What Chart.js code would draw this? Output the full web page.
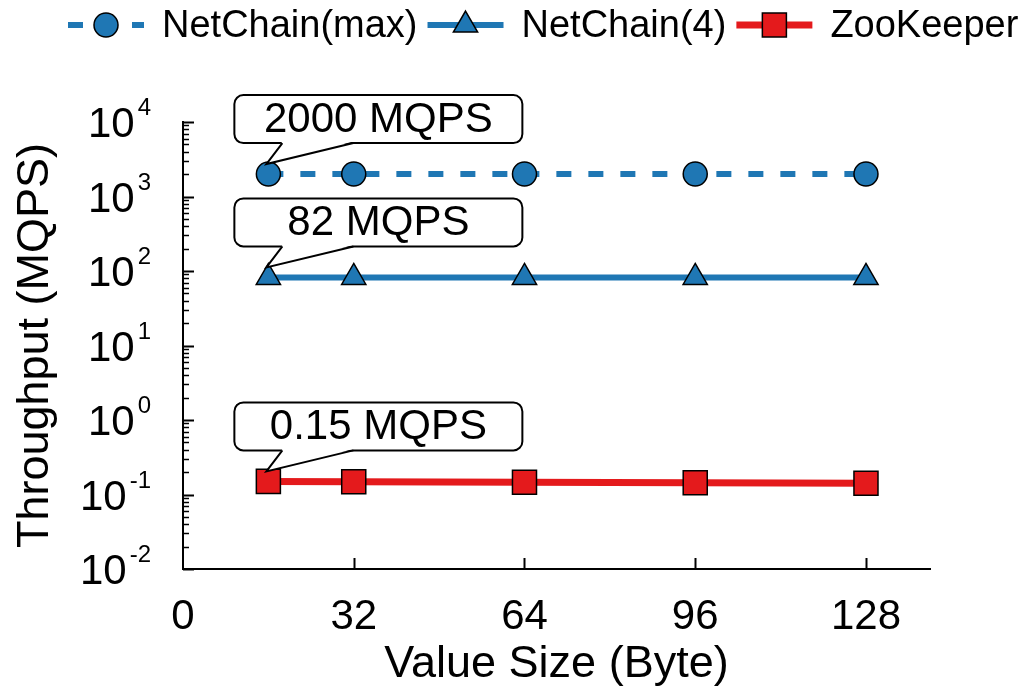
<!DOCTYPE html>
<html>
<head>
<meta charset="utf-8">
<script src="https://cdn.jsdelivr.net/npm/chart.js@4/dist/chart.umd.min.js"></script>
<style>
  body { margin: 0; background: #fff; }
  #wrap { width: 1035px; height: 692px; }
</style>
</head>
<body>
<div id="wrap"><canvas id="graf"></canvas></div>
<script>
// dados
const sizes = [16, 32, 64, 96, 128]
const netchainMax = [2000, 2000, 2000, 2000, 2000]
const netchain4 = [82, 82, 82, 82, 82]
const zookeeper = [0.15, 0.148, 0.146, 0.144, 0.142]
const xTicks = [0, 32, 64, 96, 128]
const yTickExps = [-2, -1, 0, 1, 2, 3, 4]
const callouts = [
  { dataset: 0, text: '2000 MQPS' },
  { dataset: 1, text: '82 MQPS' },
  { dataset: 2, text: '0.15 MQPS' }
]

const fam = '"Liberation Sans", Arial, Helvetica, sans-serif'
const blue = '#1f77b4'
const red = '#e41a1c'

Chart.defaults.font.family = fam
Chart.defaults.color = '#000'

// eixos desenhados à mão (ticks para dentro, expoentes)
const axesPlugin = {
  id: 'axes',
  afterDraw(chart) {
    const { ctx, chartArea } = chart
    const xs = chart.scales.x, ys = chart.scales.y
    ctx.save()
    ctx.strokeStyle = '#000'
    const last = yTickExps[yTickExps.length - 1]
    yTickExps.forEach(e => {
      for (let m = 1; m <= 9; m++) {
        if (e === last && m > 1) break
        const py = Math.round(ys.getPixelForValue(m * Math.pow(10, e))) + 0.5
        ctx.lineWidth = m === 1 ? 2 : 1.5
        ctx.beginPath()
        ctx.moveTo(chartArea.left, py)
        ctx.lineTo(chartArea.left + (m === 1 ? 11 : 6), py)
        ctx.stroke()
      }
    })
    xTicks.forEach(v => {
      if (v === 0) return
      const px = Math.round(xs.getPixelForValue(v)) + 0.5
      ctx.lineWidth = 2
      ctx.beginPath()
      ctx.moveTo(px, chartArea.bottom)
      ctx.lineTo(px, chartArea.bottom - 11)
      ctx.stroke()
    })
    // rótulos 10^n
    ctx.fillStyle = '#000'
    ctx.textBaseline = 'alphabetic'
    ctx.textAlign = 'right'
    yTickExps.forEach(e => {
      const py = ys.getPixelForValue(Math.pow(10, e))
      const base = py + 15
      ctx.font = '24px ' + fam
      const sup = String(e)
      const w = ctx.measureText(sup).width
      ctx.fillText(sup, 151, base - 22)
      ctx.font = '42px ' + fam
      ctx.fillText('10', 151 - w - 3, base)
    })
    ctx.restore()
  }
}

// legenda com linha + marcador
const legendPlugin = {
  id: 'fakeLegend',
  afterDraw(chart) {
    const ctx = chart.ctx
    const ly = 25
    const sampleW = 76
    let x = 68
    ctx.save()
    chart.data.datasets.forEach(ds => {
      ctx.strokeStyle = ds.borderColor
      ctx.lineWidth = ds.borderWidth
      ctx.setLineDash(ds.borderDash || [])
      ctx.beginPath()
      ctx.moveTo(x, ly)
      ctx.lineTo(x + sampleW, ly)
      ctx.stroke()
      ctx.setLineDash([])
      ctx.fillStyle = ds.pointBackgroundColor
      ctx.strokeStyle = ds.pointBorderColor
      ctx.lineWidth = ds.pointBorderWidth
      Chart.helpers.drawPoint(ctx, {
        pointStyle: ds.pointStyle, radius: ds.pointRadius, rotation: 0, borderWidth: ds.pointBorderWidth
      }, x + sampleW / 2, ly)
      ctx.font = '38px ' + fam
      ctx.fillStyle = '#000'
      ctx.textAlign = 'left'
      ctx.textBaseline = 'middle'
      ctx.fillText(ds.label, x + sampleW + 18, ly + 2)
      x += sampleW + 18 + ctx.measureText(ds.label).width + 10
    })
    ctx.restore()
  }
}

// balões de texto
const calloutPlugin = {
  id: 'callouts',
  afterDatasetsDraw(chart) {
    const ctx = chart.ctx
    callouts.forEach(c => {
      const pt = chart.getDatasetMeta(c.dataset).data[0]
      const px = pt.x, py = pt.y
      const left = px - 34, right = px + 254
      const bottom = py - 31, top = bottom - 48
      ctx.save()
      ctx.lineWidth = 2
      ctx.strokeStyle = '#000'
      ctx.fillStyle = '#fff'
      ctx.beginPath()
      ctx.roundRect(left, top, right - left, bottom - top, 9)
      ctx.fill()
      ctx.stroke()
      ctx.beginPath()
      ctx.moveTo(px + 14, bottom - 1.5)
      ctx.lineTo(px - 2, py - 10)
      ctx.lineTo(px + 85, bottom - 1.5)
      ctx.closePath()
      ctx.fill()
      ctx.beginPath()
      ctx.moveTo(px + 14, bottom)
      ctx.lineTo(px - 2, py - 10)
      ctx.lineTo(px + 85, bottom)
      ctx.stroke()
      ctx.fillStyle = '#000'
      ctx.font = '42px ' + fam
      ctx.textAlign = 'center'
      ctx.textBaseline = 'middle'
      ctx.fillText(c.text, (left + right) / 2, (top + bottom) / 2 + 1)
      ctx.restore()
    })
  }
}

const data = {
  datasets: [
    {
      label: 'NetChain(max)',
      data: sizes.map((s, i) => ({ x: s, y: netchainMax[i] })),
      borderColor: blue,
      borderWidth: 6,
      borderDash: [15, 17],
      pointStyle: 'circle',
      pointRadius: 12,
      pointBackgroundColor: blue,
      pointBorderColor: '#000',
      pointBorderWidth: 1.5
    },
    {
      label: 'NetChain(4)',
      data: sizes.map((s, i) => ({ x: s, y: netchain4[i] })),
      borderColor: blue,
      borderWidth: 6,
      pointStyle: 'triangle',
      pointRadius: 14,
      pointBackgroundColor: blue,
      pointBorderColor: '#000',
      pointBorderWidth: 1.5
    },
    {
      label: 'ZooKeeper',
      data: sizes.map((s, i) => ({ x: s, y: zookeeper[i] })),
      borderColor: red,
      borderWidth: 7,
      pointStyle: 'rect',
      pointRadius: 17,
      pointBackgroundColor: red,
      pointBorderColor: '#000',
      pointBorderWidth: 1.5
    }
  ]
}

const config = {
  type: 'line',
  data: data,
  options: {
    responsive: true,
    maintainAspectRatio: false,
    animation: false,
    layout: { padding: { left: 0, top: 122, right: 105, bottom: 0 } },
    plugins: {
      legend: { display: false },
      tooltip: { enabled: false }
    },
    scales: {
      x: {
        type: 'linear',
        min: 0,
        max: 140,
        afterBuildTicks: s => { s.ticks = xTicks.map(v => ({ value: v })) },
        afterFit: s => { s.height = 123 },
        grid: { display: false },
        border: { display: true, color: '#000', width: 2 },
        ticks: { font: { size: 42 }, padding: 15, color: '#000', maxRotation: 0 },
        title: { display: true, text: 'Value Size (Byte)', font: { size: 45 }, padding: { top: 0, bottom: 0 } }
      },
      y: {
        type: 'logarithmic',
        min: 0.01,
        max: 10000,
        afterFit: s => { s.width = 183 },
        grid: { display: false },
        border: { display: true, color: '#000', width: 2 },
        ticks: { display: false },
        title: { display: true, text: 'Throughput (MQPS)', font: { size: 45 }, padding: { top: 9, bottom: 0 } }
      }
    }
  },
  plugins: [axesPlugin, calloutPlugin, legendPlugin]
}

const grafic = new Chart(document.getElementById('graf'), config)
</script>
</body>
</html>
